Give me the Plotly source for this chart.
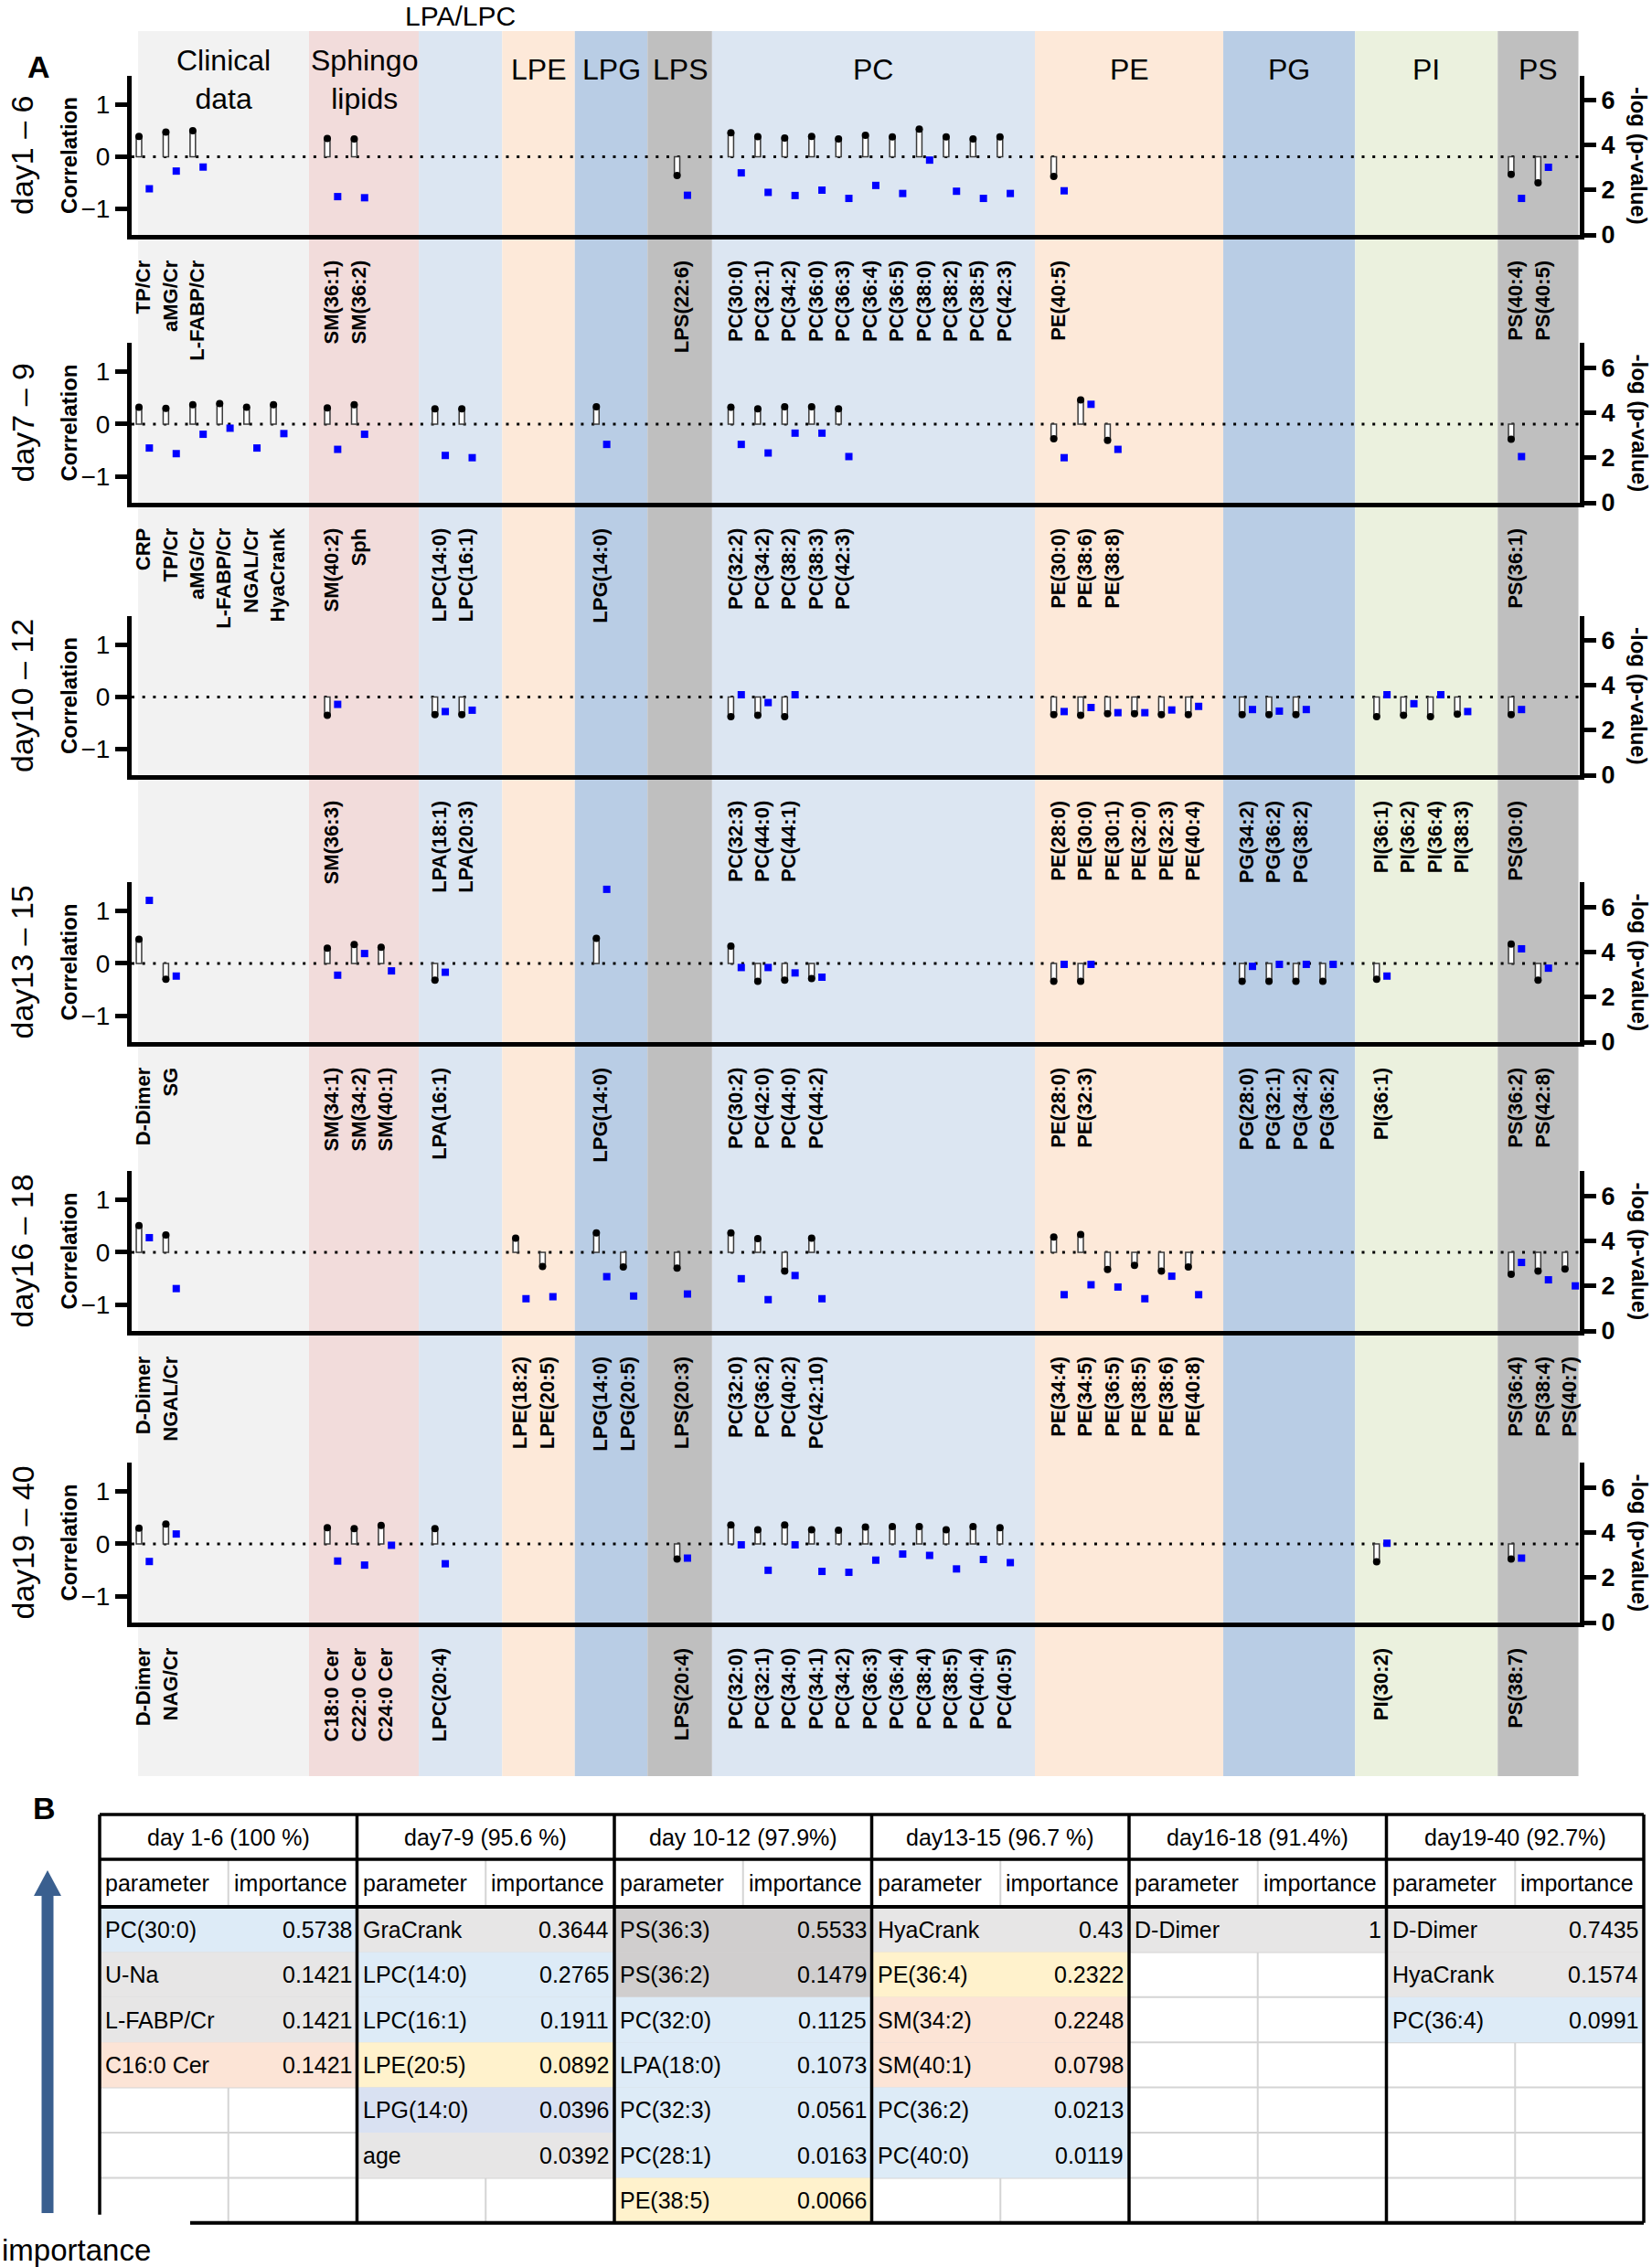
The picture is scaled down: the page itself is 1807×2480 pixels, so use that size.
import plotly.graph_objects as go

W, H = 1807, 2480
FONT = "Liberation Sans, Arial, sans-serif"

# ---------------- panel A data ----------------
row_titles = ["day1 – 6", "day7 – 9", "day10 – 12", "day13 – 15", "day16 – 18", "day19 – 40"]

d1_names = ["TP/Cr", "aMG/Cr", "L-FABP/Cr", "SM(36:1)", "SM(36:2)", "LPS(22:6)",
            "PC(30:0)", "PC(32:1)", "PC(34:2)", "PC(36:0)", "PC(36:3)", "PC(36:4)", "PC(36:5)",
            "PC(38:0)", "PC(38:2)", "PC(38:5)", "PC(42:3)", "PE(40:5)", "PS(40:4)", "PS(40:5)"]
d1_corr = [0.39, 0.47, 0.50, 0.35, 0.34, -0.36, 0.46, 0.385, 0.36, 0.39, 0.34, 0.41, 0.38,
           0.53, 0.38, 0.34, 0.38, -0.38, -0.34, -0.50]
d1_logp = [2.06, 2.85, 3.03, 1.71, 1.66, 1.77, 2.77, 1.90, 1.76, 2.00, 1.63, 2.21, 1.85,
           3.34, 1.95, 1.63, 1.85, 1.97, 1.63, 3.02]

d2_names = ["CRP", "TP/Cr", "aMG/Cr", "L-FABP/Cr", "NGAL/Cr", "HyaCrank", "SM(40:2)", "Sph",
            "LPC(14:0)", "LPC(16:1)", "LPG(14:0)", "PC(32:2)", "PC(34:2)", "PC(38:2)", "PC(38:3)",
            "PC(42:3)", "PE(30:0)", "PE(38:6)", "PE(38:8)", "PS(36:1)"]
d2_corr = [0.32, 0.30, 0.37, 0.39, 0.32, 0.37, 0.31, 0.37, 0.29, 0.29, 0.33, 0.32, 0.29, 0.33,
           0.33, 0.29, -0.28, 0.46, -0.31, -0.29]
d2_logp = [2.43, 2.18, 3.04, 3.31, 2.43, 3.07, 2.37, 3.04, 2.10, 2.00, 2.59, 2.59, 2.21, 3.09,
           3.09, 2.05, 2.00, 4.37, 2.37, 2.05]

d3_names = ["SM(36:3)", "LPA(18:1)", "LPA(20:3)", "PC(32:3)", "PC(44:0)", "PC(44:1)", "PE(28:0)",
            "PE(30:0)", "PE(30:1)", "PE(32:0)", "PE(32:3)", "PE(40:4)", "PG(34:2)", "PG(36:2)",
            "PG(38:2)", "PI(36:1)", "PI(36:2)", "PI(36:4)", "PI(38:3)", "PS(30:0)"]
d3_corr = [-0.35, -0.34, -0.34, -0.38, -0.35, -0.38, -0.34, -0.35, -0.32, -0.32, -0.34, -0.34,
           -0.34, -0.34, -0.34, -0.38, -0.35, -0.38, -0.33, -0.34]
d3_logp = [3.16, 2.84, 2.90, 3.59, 3.24, 3.59, 2.84, 3.02, 2.79, 2.79, 2.91, 3.07, 2.93, 2.86,
           2.93, 3.59, 3.19, 3.59, 2.84, 2.93]

d4_names = ["D-Dimer", "SG", "SM(34:1)", "SM(34:2)", "SM(40:1)", "LPA(16:1)", "LPG(14:0)",
            "PC(30:2)", "PC(42:0)", "PC(44:0)", "PC(44:2)", "PE(28:0)", "PE(32:3)", "PG(28:0)",
            "PG(32:1)", "PG(34:2)", "PG(36:2)", "PI(36:1)", "PS(36:2)", "PS(42:8)"]
d4_corr = [0.46, -0.30, 0.29, 0.36, 0.31, -0.32, 0.48, 0.33, -0.34, -0.32, -0.29, -0.34, -0.34,
           -0.34, -0.34, -0.34, -0.34, -0.30, 0.37, -0.32]
d4_logp = [6.29, 2.93, 2.97, 3.93, 3.16, 3.10, 6.78, 3.31, 3.31, 3.07, 2.88, 3.45, 3.45, 3.36,
           3.45, 3.45, 3.45, 2.93, 4.14, 3.28]

d5_names = ["D-Dimer", "NGAL/Cr", "LPE(18:2)", "LPE(20:5)", "LPG(14:0)", "LPG(20:5)", "LPS(20:3)",
            "PC(32:0)", "PC(36:2)", "PC(40:2)", "PC(42:10)", "PE(34:4)", "PE(34:5)", "PE(36:5)",
            "PE(38:5)", "PE(38:6)", "PE(40:8)", "PS(36:4)", "PS(38:4)", "PS(40:7)"]
d5_corr = [0.51, 0.33, 0.27, -0.27, 0.37, -0.28, -0.30, 0.37, 0.26, -0.36, 0.27, 0.29, 0.34,
           -0.33, -0.25, -0.36, -0.28, -0.42, -0.36, -0.32]
d5_logp = [4.14, 1.88, 1.43, 1.52, 2.41, 1.55, 1.64, 2.32, 1.39, 2.46, 1.43, 1.61, 2.05, 1.95,
           1.43, 2.43, 1.61, 3.04, 2.27, 2.00]

d6_names = ["D-Dimer", "NAG/Cr", "C18:0 Cer", "C22:0 Cer", "C24:0 Cer", "LPC(20:4)", "LPS(20:4)",
            "PC(32:0)", "PC(32:1)", "PC(34:0)", "PC(34:1)", "PC(34:2)", "PC(36:3)", "PC(36:4)",
            "PC(38:4)", "PC(38:5)", "PC(40:4)", "PC(40:5)", "PI(30:2)", "PS(38:7)"]
d6_corr = [0.30, 0.38, 0.31, 0.29, 0.35, 0.29, -0.29, 0.36, 0.27, 0.36, 0.27, 0.26, 0.32, 0.33,
           0.33, 0.27, 0.33, 0.31, -0.34, -0.29]
d6_logp = [2.71, 3.93, 2.73, 2.55, 3.43, 2.61, 2.86, 3.45, 2.32, 3.45, 2.27, 2.23, 2.77, 3.04,
           2.98, 2.38, 2.80, 2.66, 3.52, 2.86]

rows = [(d1_names, d1_corr, d1_logp), (d2_names, d2_corr, d2_logp), (d3_names, d3_corr, d3_logp),
        (d4_names, d4_corr, d4_logp), (d5_names, d5_corr, d5_logp), (d6_names, d6_corr, d6_logp)]

# ---------------- panel B data ----------------
tbl_headers = ["day 1-6 (100 %)", "day7-9 (95.6 %)", "day 10-12 (97.9%)",
               "day13-15 (96.7 %)", "day16-18 (91.4%)", "day19-40 (92.7%)"]
tbl_params = [
    ["PC(30:0)", "U-Na", "L-FABP/Cr", "C16:0 Cer"],
    ["GraCrank", "LPC(14:0)", "LPC(16:1)", "LPE(20:5)", "LPG(14:0)", "age"],
    ["PS(36:3)", "PS(36:2)", "PC(32:0)", "LPA(18:0)", "PC(32:3)", "PC(28:1)", "PE(38:5)"],
    ["HyaCrank", "PE(36:4)", "SM(34:2)", "SM(40:1)", "PC(36:2)", "PC(40:0)"],
    ["D-Dimer"],
    ["D-Dimer", "HyaCrank", "PC(36:4)"],
]
tbl_importance = [
    [0.5738, 0.1421, 0.1421, 0.1421],
    [0.3644, 0.2765, 0.1911, 0.0892, 0.0396, 0.0392],
    [0.5533, 0.1479, 0.1125, 0.1073, 0.0561, 0.0163, 0.0066],
    [0.43, 0.2322, 0.2248, 0.0798, 0.0213, 0.0119],
    [1],
    [0.7435, 0.1574, 0.0991],
]

# ---------------- class bands ----------------
band_names = ["Clinical", "Sphingo", "LPA/LPC", "LPE", "LPG", "LPS", "PC", "PE", "PG", "PI", "PS"]
band_titles = ["Clinical<br>data", "Sphingo<br>lipids", "", "LPE", "LPG", "LPS", "PC", "PE", "PG", "PI", "PS"]
band_start = [0, 7, 11, 14, 17, 20, 22, 34, 41, 46, 51]
band_edges = [-0.03, 6.32, 10.4, 13.5, 16.2, 18.9, 21.3, 33.3, 40.3, 45.2, 50.5, 53.5]
band_colors = ["#F2F2F2", "#F2DCDB", "#DCE6F2", "#FDE9D9", "#B9CDE5", "#BFBFBF",
               "#DCE6F2", "#FDE9D9", "#B9CDE5", "#EBF1DE", "#BFBFBF"]


def band_of(name):
    for pre, b in [("LPA", "LPA/LPC"), ("LPC", "LPA/LPC"), ("LPE", "LPE"), ("LPG", "LPG"),
                   ("LPS", "LPS"), ("PC", "PC"), ("PE", "PE"), ("PG", "PG"), ("PI", "PI"),
                   ("PS", "PS"), ("SM", "Sphingo"), ("Sph", "Sphingo")]:
        if name.startswith(pre):
            return b
    if name.endswith("Cer"):
        return "Sphingo"
    return "Clinical"


def cell_color(name):
    if name.startswith("PS"):
        return "#D0CECE"
    if name.startswith(("PC", "LPC", "LPA")):
        return "#DDEBF7"
    if name.startswith(("LPE", "PE")):
        return "#FFF2CC"
    if name.startswith("LPG"):
        return "#D9E1F2"
    if name.startswith("SM") or name.endswith("Cer"):
        return "#FCE4D6"
    return "#E7E6E6"


def fx(p):
    return p / W


def fy(p):
    return 1 - p / H


def label(text, x, y, size, xref="paper", xanchor="center", angle=0, bold=False):
    return dict(text=text, x=x, y=y, xref=xref, yref="paper", xanchor=xanchor, yanchor="middle",
                textangle=angle, showarrow=False,
                font=dict(family=FONT, size=size, color="black", weight="bold" if bold else "normal"))


# pixel layout of panel A
ROW_PX = [(83, 257), (375, 550), (674, 848), (965, 1140), (1281, 1456), (1600, 1775)]
AX_L, AX_R = 144, 1728
X_RANGE = [-0.272, 53.55]
BLUE_SHIFT = 0.385

fig = go.Figure()
layout = dict(
    width=W, height=H, margin=dict(l=0, r=0, t=0, b=0),
    paper_bgcolor="white", plot_bgcolor="rgba(0,0,0,0)",
    showlegend=False, barmode="overlay",
    font=dict(family=FONT, color="black"),
)
shapes = []
annotations = []

for r, (names, corr, logp) in enumerate(rows):
    s = "" if r == 0 else str(r + 1)
    xs, counter = [], {}
    for n in names:
        b = band_of(n)
        i = counter.get(b, 0)
        counter[b] = i + 1
        xs.append(band_start[band_names.index(b)] + i)

    xname, yname, y2name = "x" + s, "y" + s, "y" + str(r + 7)
    fig.add_trace(go.Bar(x=xs, y=corr, width=0.2, xaxis=xname, yaxis=yname,
                         marker=dict(color="white", line=dict(color="#3a3a3a", width=1.5)),
                         hoverinfo="skip"))
    fig.add_trace(go.Scatter(x=xs, y=corr, mode="markers", xaxis=xname, yaxis=yname,
                             marker=dict(color="black", size=8), hoverinfo="skip"))
    fig.add_trace(go.Scatter(x=[v + BLUE_SHIFT for v in xs], y=logp, mode="markers",
                             xaxis=xname, yaxis=y2name,
                             marker=dict(color="#0000FF", size=8, symbol="square"),
                             hoverinfo="skip"))

    top, bot = ROW_PX[r]
    layout["xaxis" + s] = dict(
        domain=[fx(AX_L), fx(AX_R)], range=X_RANGE, anchor=yname,
        tickmode="array", tickvals=[v + 0.17 for v in xs], ticktext=names, tickangle=-90,
        tickfont=dict(family=FONT, size=22, color="black", weight="bold"),
        ticks="", ticklabelstandoff=14,
        showline=True, linewidth=5, linecolor="black",
        showgrid=False, zeroline=False, automargin=False, fixedrange=True)
    layout["yaxis" + s] = dict(
        domain=[fy(bot), fy(top)], range=[-1.5, 1.55], anchor=xname,
        tickmode="array", tickvals=[-1, 0, 1], ticks="outside", ticklen=13, tickwidth=5,
        tickcolor="black", tickfont=dict(family=FONT, size=28, color="black"),
        showline=True, linewidth=5, linecolor="black",
        showgrid=False, zeroline=False, automargin=False, fixedrange=True)
    layout["yaxis" + str(r + 7)] = dict(
        overlaying=yname, side="right", anchor=xname, range=[0, 7.1],
        tickmode="array", tickvals=[0, 2, 4, 6], ticks="outside", ticklen=13, tickwidth=5,
        tickcolor="black", tickfont=dict(family=FONT, size=27, color="black", weight="bold"),
        showline=True, linewidth=5, linecolor="black",
        showgrid=False, zeroline=False, automargin=False, fixedrange=True)

    # dotted zero line
    shapes.append(dict(type="line", xref=xname, yref=yname, x0=X_RANGE[0], x1=X_RANGE[1],
                       y0=0, y1=0, layer="below",
                       line=dict(color="black", width=3, dash="3px,8.7px")))

    mid = fy((top + bot) / 2)
    annotations.append(label(row_titles[r], fx(24), mid, 34, angle=-90))
    annotations.append(label("Correlation", fx(75), mid, 24, angle=-90, bold=True))
    annotations.append(label("-log (p-value)", fx(1793), mid, 24, angle=90, bold=True))

# background bands + titles
for i, name in enumerate(band_names):
    shapes.append(dict(type="rect", xref="x", yref="paper", x0=band_edges[i], x1=band_edges[i + 1],
                       y0=fy(1943), y1=fy(34), fillcolor=band_colors[i], line=dict(width=0),
                       layer="below"))
    if band_titles[i]:
        two = "<br>" in band_titles[i]
        annotations.append(label(band_titles[i], (band_edges[i] + band_edges[i + 1]) / 2,
                                 fy(87 if two else 76), 32, xref="x"))
lpa = band_names.index("LPA/LPC")
annotations.append(label("LPA/LPC", (band_edges[lpa] + band_edges[lpa + 1]) / 2, fy(18), 30, xref="x"))

annotations.append(label("A", fx(42), fy(73), 34, bold=True))
annotations.append(label("B", fx(48), fy(1978), 34, bold=True))

# ---------------- panel B table ----------------
TB_L, TB_R = 109, 1798
TB_TOP, TB_H1, TB_H2 = 1985, 2034, 2086
ROW_H = 49.4
N_ROWS = 7
TB_BOT = TB_H2 + ROW_H * N_ROWS
gw = (TB_R - TB_L) / len(tbl_headers)


def rect(x0, y0, x1, y1, fill):
    return dict(type="rect", xref="paper", yref="paper", x0=fx(x0), x1=fx(x1), y0=fy(y1), y1=fy(y0),
                fillcolor=fill, line=dict(width=0), layer="above")


def hline(x0, x1, y, color, w):
    return dict(type="line", xref="paper", yref="paper", x0=fx(x0), x1=fx(x1), y0=fy(y), y1=fy(y),
                line=dict(color=color, width=w), layer="above")


def vline(x, y0, y1, color, w):
    return dict(type="line", xref="paper", yref="paper", x0=fx(x), x1=fx(x), y0=fy(y0), y1=fy(y1),
                line=dict(color=color, width=w), layer="above")


# thin gray grid
for g in range(len(tbl_headers)):
    gl = TB_L + g * gw
    shapes.append(vline(gl + gw / 2, TB_H1, TB_BOT, "#D4D4D4", 2))
for i in range(1, N_ROWS):
    shapes.append(hline(TB_L, TB_R, TB_H2 + ROW_H * i, "#D4D4D4", 2))

for g, head in enumerate(tbl_headers):
    gl = TB_L + g * gw
    for i, (p, v) in enumerate(zip(tbl_params[g], tbl_importance[g])):
        y0 = TB_H2 + ROW_H * i
        shapes.append(rect(gl, y0, gl + gw, y0 + ROW_H, cell_color(p)))
        yc = fy(y0 + ROW_H / 2)
        annotations.append(label(p, fx(gl + 4), yc, 25, xanchor="left"))
        annotations.append(label(f"{v:g}", fx(gl + gw - 4), yc, 25, xanchor="right"))
    annotations.append(label(head, fx(gl + gw / 2), fy((TB_TOP + TB_H1) / 2), 25))
    for j, sub in enumerate(["parameter", "importance"]):
        annotations.append(label(sub, fx(gl + j * gw / 2 + 4), fy((TB_H1 + TB_H2) / 2), 25,
                                 xanchor="left"))

# thick black frame
shapes.append(hline(TB_L, TB_R, TB_TOP, "black", 3.5))
shapes.append(hline(TB_L, TB_R, TB_H1, "black", 3.5))
shapes.append(hline(TB_L, TB_R, TB_H2, "black", 4))
shapes.append(hline(208, TB_R, TB_BOT, "black", 4))
shapes.append(vline(TB_L, TB_TOP, TB_BOT - 9, "black", 3.5))
for g in range(1, len(tbl_headers) + 1):
    shapes.append(vline(TB_L + g * gw, TB_TOP, TB_BOT, "black", 3.5))

# importance arrow
ARROW = "#3A5F8F"
shapes.append(rect(45.5, 2072, 58.5, 2421, ARROW))
shapes.append(dict(type="path", xref="paper", yref="paper", layer="above",
                   path=f"M {fx(37)},{fy(2074)} L {fx(67)},{fy(2074)} L {fx(52)},{fy(2046)} Z",
                   fillcolor=ARROW, line=dict(width=0)))
annotations.append(label("importance", 0, fy(2461), 33, xanchor="left"))

layout["shapes"] = shapes
layout["annotations"] = annotations
fig.update_layout(**layout)

fig.write_html("out.html", config={"displayModeBar": False},
               post_script="document.body.style.margin='0';")
